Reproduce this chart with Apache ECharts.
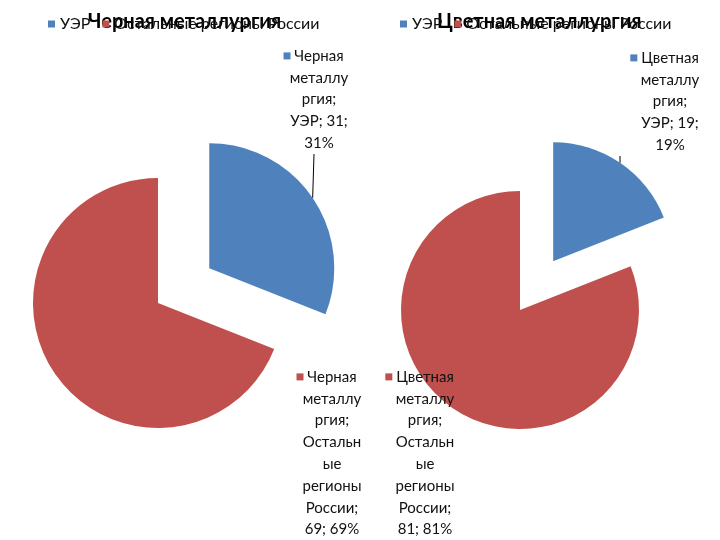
<!DOCTYPE html>
<html>
<head>
<meta charset="utf-8">
<script src="https://cdn.jsdelivr.net/npm/echarts@6/dist/echarts.min.js"></script>
<style>
html,body{margin:0;padding:0;background:#fff;}
#chart{width:720px;height:540px;}
</style>
</head>
<body>
<div id="chart"></div>
<script>
// ---- data ----
var categories = ['УЭР', 'Остальные регионы России'];
var seriesNames = ['Черная металлургия', 'Цветная металлургия'];
var ferrousValues = [31, 69];
var nonFerrousValues = [19, 81];

// ---- style / layout ----
var FONT = 'Lato';
var colors = ['#4F81BD', '#C0504D'];
var WRAP_W = 63;
var LABEL_FS = 15;
var LINE_H = 21.8;
var BLUE_PAD_L = [10, 100]; // invisible left padding so the leader line attaches straight below

var ctx = document.createElement('canvas').getContext('2d');
ctx.font = LABEL_FS + 'px ' + FONT;
function tw(s) { return ctx.measureText(s).width; }
function wrap(text) {
  var words = text.split(' ');
  var lines = [];
  var cur = '';
  words.forEach(function (w) {
    var cand = cur ? cur + ' ' + w : w;
    if (tw(cand) <= WRAP_W) { cur = cand; return; }
    if (cur) { lines.push(cur); cur = ''; }
    if (tw(w) <= WRAP_W) { cur = w; return; }
    var piece = '';
    for (var i = 0; i < w.length; i++) {
      if (tw(piece + w[i]) > WRAP_W) { lines.push(piece); piece = w[i]; }
      else piece += w[i];
    }
    cur = piece;
  });
  if (cur) lines.push(cur);
  return lines;
}

function makeLabelFormatter(p) {
  var txt = p.seriesName + '; ' + p.name + '; ' + p.value + '; ' + p.percent + '%';
  var lines = wrap(txt);
  var key = p.dataIndex === 0 ? 'k0' : 'k1';
  lines[0] = '{' + key + '|}{t| ' + lines[0] + ' }{sp|}';
  for (var i = 1; i < lines.length; i++) lines[i] = '{t|' + lines[i] + '}';
  return lines.join('\n');
}

// label anchor (text center x, top y) for each pie: [blue, red]
var labelAnchors = [
  [[319, 45], [332, 366]],
  [[670, 47], [425, 366]]
];
var pieCenters = [[158, 303], [520, 310]];
var pieRadius = [125, 119];
var explode = [62, 59];

// one pie series per slice; the slice drawn is offset along its bisector by explode[idx] if exploded
function buildSliceSeries(idx, values, sliceIdx, exploded) {
  var total = values.reduce(function (a, b) { return a + b; }, 0);
  var before = 0;
  for (var i = 0; i < sliceIdx; i++) before += values[i];
  var midDeg = (before + values[sliceIdx] / 2) / total * 360; // clockwise from 12 o'clock
  var mid = midDeg * Math.PI / 180;
  var off = exploded ? explode[idx] : 0;
  var c = [pieCenters[idx][0] + off * Math.sin(mid), pieCenters[idx][1] - off * Math.cos(mid)];
  var padL = sliceIdx === 0 ? BLUE_PAD_L[idx] : 0;
  return {
    type: 'pie',
    name: seriesNames[idx],
    center: c,
    radius: pieRadius[idx],
    startAngle: 90,
    clockwise: true,
    avoidLabelOverlap: false,
    animation: false,
    silent: true,
    itemStyle: { borderWidth: 0 },
    emphasis: { disabled: true },
    label: {
      show: true,
      position: 'outside',
      formatter: makeLabelFormatter,
      fontFamily: FONT,
      fontSize: LABEL_FS,
      color: '#111',
      align: 'center',
      lineHeight: LINE_H,
      padding: [0, 0, 0, padL],
      rich: {
        t: { fontFamily: FONT, fontSize: LABEL_FS, color: '#111', lineHeight: LINE_H },
        k0: { width: 7, height: 7, backgroundColor: colors[0] },
        k1: { width: 7, height: 7, backgroundColor: colors[1] },
        sp: { width: 7, height: 7 }
      }
    },
    labelLine: { show: sliceIdx === 0, length: 10, length2: 0, lineStyle: { color: '#000', width: 1 } },
    labelLayout: function (p) {
      var a = labelAnchors[idx][p.dataIndex];
      return { x: a[0] - padL / 2, y: a[1], align: 'center', verticalAlign: 'top' };
    },
    data: categories.map(function (cat, i) {
      var on = i === sliceIdx;
      return {
        name: cat,
        value: values[i],
        itemStyle: { color: on ? colors[i] : 'rgba(0,0,0,0)' },
        label: { show: on },
        labelLine: { show: on && sliceIdx === 0 }
      };
    })
  };
}

var legendData = categories.map(function (c, i) { return { name: c, itemStyle: { color: colors[i] } }; });

var chart = echarts.init(document.getElementById('chart'), null, { renderer: 'canvas' });
chart.setOption({
  backgroundColor: '#fff',
  animation: false,
  color: colors,
  title: [
    { text: seriesNames[0], left: 88, top: 12, padding: 0, textStyle: { fontFamily: FONT, fontSize: 20, fontWeight: 'bold', color: '#000' }, z: 2 },
    { text: seriesNames[1], left: 437, top: 12, padding: 0, textStyle: { fontFamily: FONT, fontSize: 20, fontWeight: 'bold', color: '#000' }, z: 2 }
  ],
  legend: [
    { data: legendData, left: 43, top: 11, icon: 'rect', itemWidth: 7, itemHeight: 7, itemGap: 12, selectedMode: false, z: 6,
      textStyle: { fontFamily: FONT, fontSize: 16, color: '#111' } },
    { data: legendData, left: 395, top: 11, icon: 'rect', itemWidth: 7, itemHeight: 7, itemGap: 12, selectedMode: false, z: 6,
      textStyle: { fontFamily: FONT, fontSize: 16, color: '#111' } }
  ],
  series: [
    buildSliceSeries(0, ferrousValues, 1, false),
    buildSliceSeries(0, ferrousValues, 0, true),
    buildSliceSeries(1, nonFerrousValues, 1, false),
    buildSliceSeries(1, nonFerrousValues, 0, true)
  ]
});
</script>
</body>
</html>
